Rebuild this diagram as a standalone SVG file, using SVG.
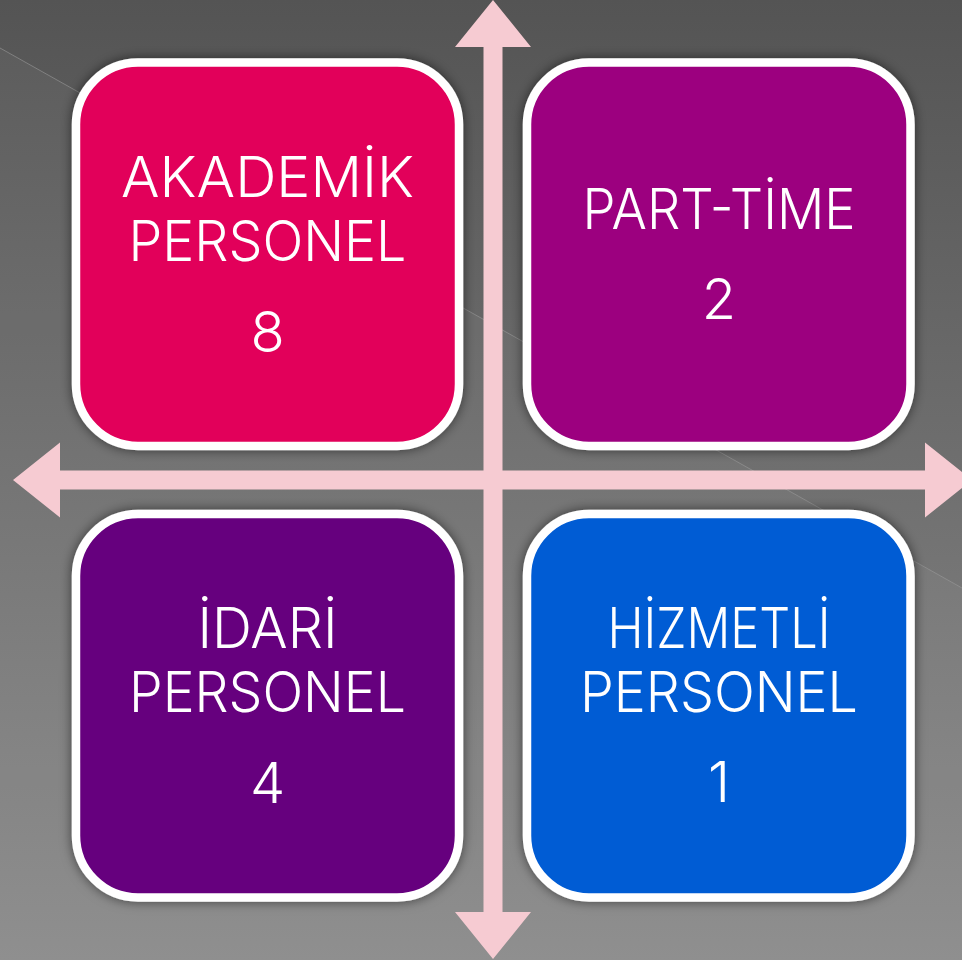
<svg xmlns="http://www.w3.org/2000/svg" width="962" height="960" viewBox="0 0 962 960">
  <defs>
    <linearGradient id="bg" x1="0" y1="0" x2="0" y2="1">
      <stop offset="0" stop-color="#545454"/>
      <stop offset="1" stop-color="#8b8b8b"/>
    </linearGradient>
    <filter id="shadow" x="-10%" y="-10%" width="120%" height="120%">
      <feDropShadow dx="0" dy="0" stdDeviation="6" flood-color="#000" flood-opacity="0.55"/>
    </filter>
    <style>
      .box { stroke: #ffffff; stroke-width: 8.5; filter: url(#shadow); }
      .lbl { font-family: Inter, "Liberation Sans", sans-serif; font-weight: 300; font-size: 56px; fill: #ffffff; text-anchor: middle; }
      .arrow { fill: #F6CBD2; }
    </style>
  </defs>

  <rect x="0" y="0" width="962" height="960" fill="url(#bg)"/>
  <polygon points="0,48 962,588 962,960 0,960" fill="#ffffff" opacity="0.04"/>
  <line x1="0" y1="48" x2="962" y2="588" stroke="#9a9a9a" stroke-width="1" opacity="0.6"/>

  <g id="node-akademik">
    <rect class="box" x="76" y="62.5" width="383" height="383.5" rx="62" fill="#E2005A"/>
    <text class="lbl" x="267.5" y="197" textLength="293" lengthAdjust="spacingAndGlyphs">AKADEMİK</text>
    <text class="lbl" x="267.5" y="261" textLength="278" lengthAdjust="spacingAndGlyphs">PERSONEL</text>
    <text class="lbl" x="267.5" y="352">8</text>
  </g>

  <g id="node-parttime">
    <rect class="box" x="527" y="62.5" width="383.5" height="383.5" rx="62" fill="#9C007F"/>
    <text class="lbl" x="719" y="229" textLength="273" lengthAdjust="spacingAndGlyphs">PART-TİME</text>
    <text class="lbl" x="719" y="319">2</text>
  </g>

  <g id="node-idari">
    <rect class="box" x="76" y="514" width="383" height="383.5" rx="62" fill="#66007E"/>
    <text class="lbl" x="267.5" y="648" textLength="140" lengthAdjust="spacingAndGlyphs">İDARİ</text>
    <text class="lbl" x="267.5" y="712" textLength="277" lengthAdjust="spacingAndGlyphs">PERSONEL</text>
    <text class="lbl" x="267.5" y="803">4</text>
  </g>

  <g id="node-hizmetli">
    <rect class="box" x="527" y="514" width="383.5" height="383.5" rx="62" fill="#005BD4"/>
    <text class="lbl" x="719" y="648" textLength="223" lengthAdjust="spacingAndGlyphs">HİZMETLİ</text>
    <text class="lbl" x="719" y="712" textLength="278" lengthAdjust="spacingAndGlyphs">PERSONEL</text>
    <text class="lbl" x="719" y="802">1</text>
  </g>

  <g id="connectors">
    <polygon class="arrow" points="493,0 531,47 502.5,47 502.5,912 531,912 493,959 455,912 483.5,912 483.5,47 455,47"/>
    <polygon class="arrow" points="13,480 60,442.5 60,470.5 925,470.5 925,442.5 972,480 925,517.5 925,489.5 60,489.5 60,517.5"/>
  </g>
</svg>
